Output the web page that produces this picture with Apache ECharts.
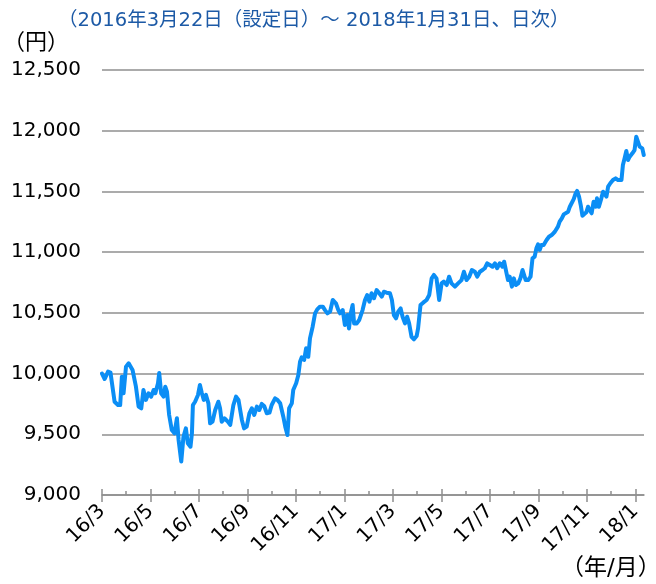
<!DOCTYPE html>
<html>
<head>
<meta charset="utf-8">
<script src="https://cdn.jsdelivr.net/npm/echarts@6/dist/echarts.min.js"></script>
<style>
  html, body { margin: 0; padding: 0; background: #fff; }
  #chart { width: 656px; height: 584px; }
</style>
</head>
<body>
<div id="chart"></div>
<script>
// x: position in tick units (one tick ≈ one month, 0 = 設定日 16/3)
var xPos = [
  0, 0.11, 0.25, 0.35, 0.52, 0.66, 0.75, 0.82, 0.89, 0.99,
  1.10, 1.17, 1.26, 1.40, 1.51, 1.62, 1.71, 1.81, 1.92, 2.03,
  2.13, 2.20, 2.31, 2.36, 2.44, 2.54, 2.61, 2.68, 2.77, 2.88,
  2.99, 3.09, 3.16, 3.27, 3.36, 3.46, 3.54, 3.65, 3.71, 3.75,
  3.84, 3.96, 4.04, 4.12, 4.20, 4.29, 4.39, 4.46, 4.56, 4.67,
  4.80, 4.87, 4.94, 5.05, 5.19, 5.29, 5.42, 5.53, 5.63, 5.77,
  5.86, 5.97, 6.08, 6.18, 6.28, 6.39, 6.49, 6.59, 6.69, 6.80,
  6.91, 7.00, 7.14, 7.24, 7.35, 7.48, 7.56, 7.65, 7.72, 7.83,
  7.89, 8.01, 8.10, 8.17, 8.24, 8.34, 8.42, 8.51, 8.58, 8.69,
  8.79, 8.88, 8.99, 9.11, 9.20, 9.30, 9.41, 9.52, 9.65, 9.75,
  9.82, 9.93, 10.02, 10.12, 10.19, 10.26, 10.34, 10.40, 10.51, 10.61,
  10.75, 10.85, 10.94, 11.03, 11.12, 11.22, 11.33, 11.44, 11.54, 11.63,
  11.74, 11.88, 11.96, 12.04, 12.13, 12.22, 12.32, 12.40, 12.50, 12.59,
  12.67, 12.77, 12.87, 12.98, 13.04, 13.14, 13.25, 13.39, 13.50, 13.60,
  13.69, 13.80, 13.91, 14.01, 14.10, 14.22, 14.32, 14.42, 14.56, 14.69,
  14.83, 14.93, 15.04, 15.15, 15.26, 15.38, 15.48, 15.59, 15.70, 15.79,
  15.89, 16.00, 16.11, 16.21, 16.30, 16.41, 16.52, 16.59, 16.69, 16.75,
  16.82, 16.91, 16.99, 17.07, 17.17, 17.26, 17.35, 17.41, 17.48, 17.58,
  17.68, 17.76, 17.85, 17.92, 17.99, 18.06, 18.13, 18.22, 18.34, 18.44,
  18.55, 18.68, 18.81, 18.88, 18.97, 19.05, 19.13, 19.23, 19.30, 19.38,
  19.46, 19.54, 19.60, 19.68, 19.75, 19.82, 19.90, 19.98, 20.05, 20.12,
  20.20, 20.28, 20.37, 20.42, 20.50, 20.60, 20.67, 20.75, 20.81, 20.88,
  20.97, 21.08, 21.19, 21.29, 21.43, 21.49, 21.56, 21.63, 21.70, 21.77,
  21.88, 21.97, 22.04, 22.11, 22.18, 22.29, 22.35
];

// 基準価額（円）
var nav = [
  10000, 9955, 10016, 10008, 9768, 9741, 9741, 9974, 9838, 10057,
  10085, 10098, 10030, 9892, 9728, 9714, 9865, 9783, 9838, 9810,
  9865, 9838, 9920, 10005, 9838, 9810, 9892, 9851, 9659, 9535,
  9508, 9632, 9453, 9275, 9480, 9549, 9426, 9398, 9508, 9741,
  9768, 9824, 9906, 9838, 9783, 9824, 9755, 9590, 9604, 9700,
  9768, 9714, 9604, 9632, 9604, 9577, 9741, 9810, 9783, 9618,
  9549, 9563, 9673, 9714, 9659, 9728, 9700, 9750, 9733, 9673,
  9678, 9741, 9796, 9783, 9755, 9645, 9563, 9494, 9714, 9755,
  9865, 9920, 9988, 10098, 10134, 10112, 10208, 10139, 10290, 10386,
  10496, 10529, 10551, 10551, 10523, 10496, 10510, 10606, 10579, 10523,
  10496, 10523, 10400, 10482, 10372, 10496, 10565, 10413, 10413, 10441,
  10523, 10606, 10647, 10592, 10661, 10620, 10688, 10661, 10633, 10674,
  10666, 10661, 10606, 10482, 10455, 10510, 10537, 10468, 10413, 10468,
  10413, 10303, 10282, 10309, 10372, 10565, 10584, 10606, 10647, 10784,
  10812, 10784, 10606, 10743, 10757, 10729, 10798, 10743, 10716, 10743,
  10770, 10839, 10770, 10798, 10853, 10839, 10798, 10839, 10853, 10867,
  10908, 10894, 10880, 10908, 10867, 10908, 10880, 10921, 10825, 10770,
  10798, 10716, 10784, 10729, 10743, 10784, 10853, 10867, 10770, 10770,
  10798, 10949, 10963, 11031, 11064, 11018, 11059, 11059, 11100, 11127,
  11141, 11168, 11210, 11251, 11278, 11311, 11311, 11333, 11374, 11388,
  11437, 11484, 11504, 11457, 11388, 11300, 11292, 11328, 11374, 11347,
  11320, 11415, 11374, 11443, 11374, 11443, 11498, 11512, 11457, 11539,
  11567, 11594, 11608, 11594, 11594, 11718, 11773, 11833, 11759, 11786,
  11814, 11841, 11951, 11937, 11869, 11855, 11800
];

var monthLabels = ['16/3', '16/5', '16/7', '16/9', '16/11', '17/1', '17/3', '17/5', '17/7', '17/9', '17/11', '18/1'];
var majorTicks = [0, 2, 4, 6, 8, 10, 12, 14, 16, 18, 20, 22];
var minorTicks = [1, 3, 5, 7, 9, 11, 13, 15, 17, 19, 21];
var yTicks = [9000, 9500, 10000, 10500, 11000, 11500, 12000, 12500];

var titleText = '（2016年3月22日（設定日）～ 2018年1月31日、日次）';

var chart = echarts.init(document.getElementById('chart'));

var axisGray = '#8f8f8f';
var fontMix = "'DejaVu Sans', 'Noto Sans CJK JP'";
var xMax = 22.36;

var lineData = xPos.map(function (x, i) { return [x, nav[i]]; });

var option = {
    animation: false,
    title: {
        text: titleText,
        left: 53,
        top: 6,
        textStyle: {
            fontFamily: fontMix,
            fontSize: 19.5,
            fontWeight: 'normal',
            color: '#1d5aa6'
        }
    },
    graphic: [
        {
            type: 'text', left: 3, top: 32,
            style: { text: '（円）', fontFamily: fontMix, fontSize: 22, fill: '#000' }
        },
        {
            type: 'text', left: 561, top: 558,
            style: { text: '（年/月）', fontFamily: fontMix, fontSize: 23, fill: '#000' }
        }
    ],
    grid: { left: 102, right: 12, top: 70, bottom: 89, containLabel: false },
    xAxis: [
        {
            type: 'value', min: 0, max: xMax, position: 'bottom', offset: 0,
            splitLine: { show: false },
            axisLine: { show: true, lineStyle: { color: axisGray, width: 1.5 } },
            axisTick: { show: true, customValues: majorTicks, length: 7, lineStyle: { color: axisGray, width: 1.5 } },
            axisLabel: {
                customValues: majorTicks,
                rotate: 45,
                margin: 13,
                fontFamily: 'DejaVu Sans',
                fontSize: 20,
                color: '#000',
                formatter: function (v) { return monthLabels[Math.round(v / 2)] || ''; }
            }
        },
        {
            type: 'value', min: 0, max: xMax, position: 'bottom', offset: 0,
            splitLine: { show: false },
            axisLine: { show: false },
            axisLabel: { show: false },
            axisTick: { show: true, inside: true, customValues: majorTicks, length: 6, lineStyle: { color: axisGray, width: 1.5 } }
        },
        {
            type: 'value', min: 0, max: xMax, position: 'bottom', offset: 0,
            splitLine: { show: false },
            axisLine: { show: false },
            axisLabel: { show: false },
            axisTick: { show: true, inside: true, customValues: minorTicks, length: 4, lineStyle: { color: axisGray, width: 1.5 } }
        }
    ],
    yAxis: {
        type: 'value', min: 9000, max: 12500, interval: 500,
        axisLine: { show: false },
        axisTick: { show: false },
        splitLine: { lineStyle: { color: axisGray, width: 1.5 } },
        axisLabel: {
            margin: 21,
            fontFamily: 'DejaVu Sans',
            fontSize: 20,
            color: '#000',
            formatter: function (v) { return yTicks.indexOf(v) >= 0 ? v.toLocaleString('en-US') : ''; }
        }
    },
    series: [{
        type: 'line',
        xAxisIndex: 0,
        data: lineData,
        showSymbol: false,
        smooth: false,
        clip: false,
        lineStyle: { color: '#0b8ef5', width: 4, cap: 'round', join: 'round' },
        itemStyle: { color: '#0b8ef5' }
    }]
};
chart.setOption(option);
</script>
</body>
</html>
